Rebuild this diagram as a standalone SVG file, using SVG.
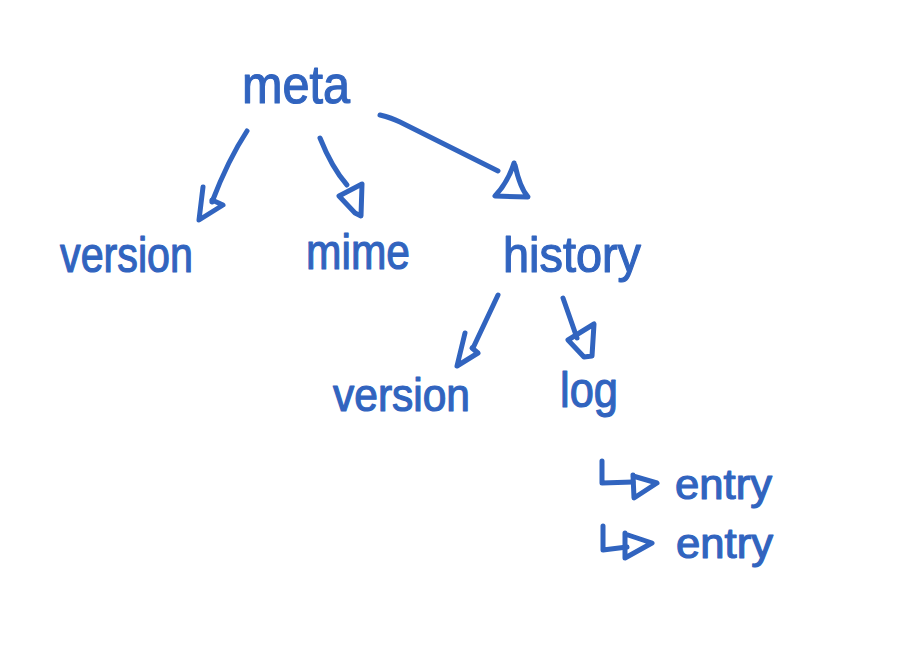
<svg xmlns="http://www.w3.org/2000/svg" width="914" height="666" viewBox="0 0 914 666">
  <style>
    .lbl { font-family: "Liberation Sans", "DejaVu Sans", sans-serif; fill: #3164bf; stroke: #3164bf; stroke-width: 1.2; stroke-linejoin: round; }
    .ln { fill: none; stroke: #3164bf; stroke-width: 5; stroke-linecap: round; stroke-linejoin: round; }
  </style>
  <rect width="914" height="666" fill="#ffffff"/>
  <g id="connectors">
    <!-- meta -> version -->
    <path class="ln" d="M247,131 Q228,160 212,202"/>
    <path class="ln" d="M203,187 L199,220 L223,205 L212,200"/>
    <!-- meta -> mime -->
    <path class="ln" d="M320,138 Q332,168 347,185"/>
    <path class="ln" d="M339,196 L362,184 L361,216 L355,213 L339,196"/>
    <!-- meta -> history -->
    <path class="ln" d="M380,115 Q392,118 400,122 L498,171"/>
    <path class="ln" d="M514,163 Q508,182 495,196 L528,197 Q520,188 515,165"/>
    <!-- history -> version -->
    <path class="ln" d="M498,295 L473,348"/>
    <path class="ln" d="M465,333 L457,366 L478,353 L472,348"/>
    <!-- history -> log -->
    <path class="ln" d="M563,298 L577,338"/>
    <path class="ln" d="M568,340 L594,324 L592,356 L584,357 L568,340"/>
    <!-- log -> entry 1 -->
    <path class="ln" d="M602,461 L602,483 L633,482"/>
    <path class="ln" d="M633,475 L634,498 L657,483 L633,476"/>
    <!-- log -> entry 2 -->
    <path class="ln" d="M603,526 L603,550 L627,547"/>
    <path class="ln" d="M625,533 L625,558 L652,543 L625,534"/>
  </g>
  <g id="node-meta">
    <text class="lbl" x="242" y="103" font-size="54" textLength="108" lengthAdjust="spacingAndGlyphs">meta</text>
  </g>
  <g id="node-version">
    <text class="lbl" x="60" y="272" font-size="50" textLength="133" lengthAdjust="spacingAndGlyphs">version</text>
  </g>
  <g id="node-mime">
    <text class="lbl" x="306" y="269" font-size="50" textLength="104" lengthAdjust="spacingAndGlyphs">mime</text>
  </g>
  <g id="node-history">
    <text class="lbl" x="503" y="272" font-size="50" textLength="138" lengthAdjust="spacingAndGlyphs">history</text>
  </g>
  <g id="node-history-version">
    <text class="lbl" x="333" y="411" font-size="46" textLength="137" lengthAdjust="spacingAndGlyphs">version</text>
  </g>
  <g id="node-log">
    <text class="lbl" x="560" y="407" font-size="50" textLength="58" lengthAdjust="spacingAndGlyphs">log</text>
  </g>
  <g id="node-entry-1">
    <text class="lbl" x="675" y="499" font-size="42" textLength="97" lengthAdjust="spacingAndGlyphs">entry</text>
  </g>
  <g id="node-entry-2">
    <text class="lbl" x="676" y="558" font-size="42" textLength="97" lengthAdjust="spacingAndGlyphs">entry</text>
  </g>
</svg>
